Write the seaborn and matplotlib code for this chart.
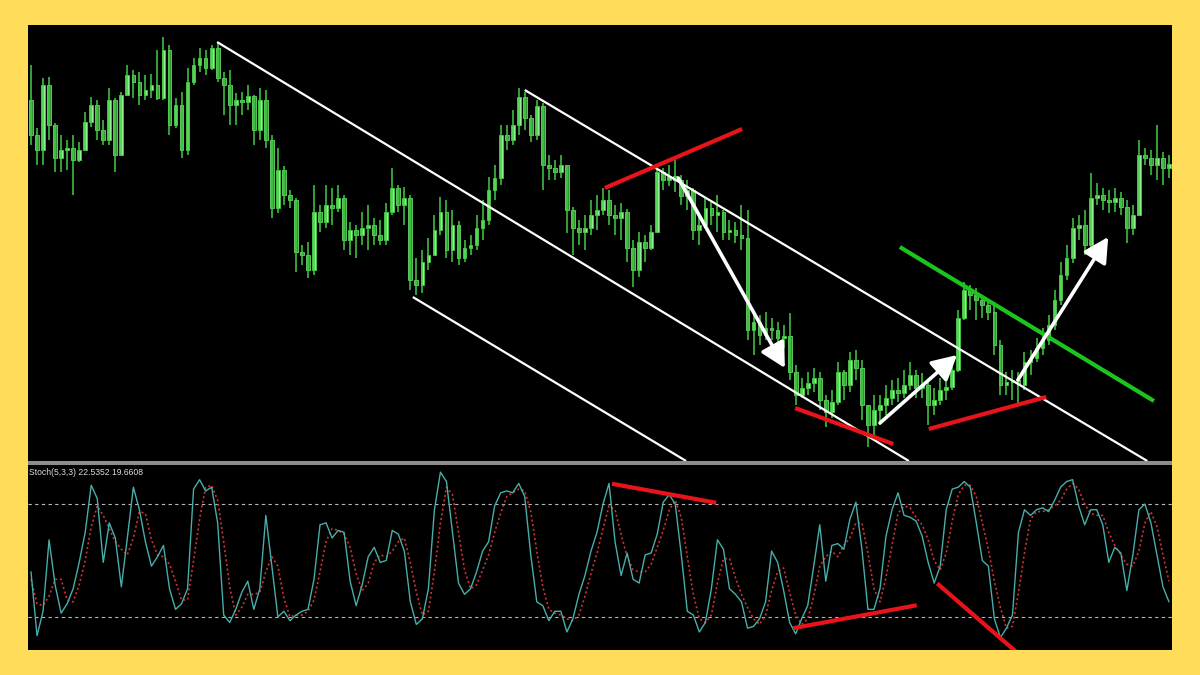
import numpy as np
import matplotlib
matplotlib.use("Agg")
import matplotlib.pyplot as plt
from matplotlib.patches import Rectangle
import seaborn as sns

sns.set_theme(style="dark")
plt.rcParams["font.family"] = ["Liberation Sans", "DejaVu Sans"]

# --- price bars (open of each bar = previous close) ---
first_open = 361
close = [326, 311, 376, 336, 303, 311, 313, 301, 311, 339,
         356, 331, 321, 361, 306, 366, 386, 379, 366, 371,
         376, 363, 411, 336, 356, 311, 379, 396, 403, 393,
         413, 383, 376, 356, 361, 359, 365, 331, 361, 321,
         253, 291, 266, 261, 209, 206, 191, 249, 239, 256,
         253, 263, 221, 231, 226, 233, 236, 226, 221, 249,
         273, 256, 263, 181, 176, 199, 206, 231, 249, 211,
         236, 203, 213, 216, 233, 241, 271, 283, 326, 321,
         336, 364, 343, 326, 355, 296, 293, 289, 296, 251,
         233, 229, 233, 246, 251, 261, 246, 243, 249, 213,
         191, 219, 213, 229, 289, 281, 285, 281, 265, 271,
         231, 236, 253, 246, 249, 229, 231, 226, 223, 131,
         139, 126, 133, 131, 123, 125, 89, 66, 73, 78,
         83, 61, 49, 59, 89, 76, 101, 93, 56, 36,
         51, 56, 63, 71, 68, 76, 86, 73, 76, 56,
         61, 71, 74, 91, 143, 171, 166, 161, 156, 149,
         116, 76, 79, 81, 76, 99, 103, 113, 121, 136,
         161, 186, 203, 233, 236, 216, 263, 266, 261, 259,
         263, 254, 233, 246, 306, 303, 296, 303, 293, 297]
high = [396, 333, 383, 384, 338, 326, 321, 326, 319, 349,
        364, 361, 341, 373, 363, 369, 396, 391, 389, 386,
        387, 411, 424, 416, 363, 369, 393, 403, 413, 411,
        416, 419, 389, 391, 368, 369, 376, 366, 373, 371,
        326, 313, 295, 271, 263, 216, 219, 276, 256, 276,
        273, 276, 266, 239, 236, 249, 256, 243, 241, 258,
        293, 276, 274, 266, 203, 211, 223, 246, 264, 261,
        251, 240, 221, 226, 246, 261, 284, 296, 336, 336,
        351, 373, 369, 346, 361, 358, 306, 301, 306, 296,
        254, 241, 246, 261, 266, 273, 271, 256, 258, 252,
        221, 229, 226, 236, 294, 293, 296, 303, 286, 281,
        273, 246, 263, 261, 266, 251, 241, 239, 256, 251,
        146, 146, 149, 143, 139, 136, 148, 96, 83, 89,
        93, 89, 66, 71, 99, 91, 109, 111, 101, 56,
        66, 66, 76, 81, 83, 91, 99, 91, 88, 81,
        73, 83, 86, 101, 151, 179, 176, 173, 166, 161,
        156, 121, 89, 91, 89, 109, 111, 123, 133, 146,
        171, 199, 216, 243, 246, 251, 288, 278, 273, 271,
        273, 269, 261, 256, 321, 313, 311, 336, 309, 306]
low = [316, 296, 296, 321, 289, 289, 291, 266, 299, 311,
       334, 321, 316, 316, 289, 306, 366, 363, 356, 361,
       363, 361, 361, 326, 333, 303, 306, 376, 389, 386,
       391, 379, 346, 336, 336, 346, 351, 316, 321, 313,
       243, 248, 256, 253, 189, 196, 183, 186, 229, 233,
       236, 249, 211, 206, 203, 216, 211, 216, 216, 216,
       246, 249, 236, 171, 166, 168, 191, 206, 226, 203,
       199, 196, 199, 206, 211, 221, 236, 261, 276, 311,
       316, 326, 331, 319, 321, 271, 281, 281, 283, 228,
       206, 216, 211, 226, 231, 246, 236, 226, 221, 199,
       174, 184, 199, 211, 229, 271, 275, 269, 256, 251,
       221, 216, 233, 236, 229, 221, 221, 218, 211, 121,
       106, 116, 121, 121, 116, 113, 81, 56, 63, 66,
       69, 51, 34, 43, 56, 61, 69, 81, 41, 14,
       26, 36, 46, 56, 59, 63, 71, 63, 63, 36,
       46, 56, 61, 71, 89, 141, 151, 141, 143, 141,
       106, 66, 66, 61, 58, 71, 86, 99, 106, 116,
       131, 156, 181, 198, 221, 206, 211, 256, 251, 248,
       249, 246, 218, 226, 246, 296, 286, 281, 276, 283]

# --- stochastic oscillator (%K main, %D signal) ---
stoch_k = [44, 10, 23, 61, 37, 22, 27, 35, 49, 65,
           90, 83, 49, 70, 62, 36, 62, 89, 77, 60,
           47, 52, 58, 35, 24, 27, 35, 88, 93, 87,
           89, 70, 21, 17, 24, 33, 39, 24, 35, 74,
           47, 20, 23, 18, 21, 23, 24, 40, 69, 70,
           62, 66, 65, 39, 26, 37, 52, 57, 49, 50,
           66, 64, 55, 28, 16, 19, 35, 77, 97, 92,
           65, 38, 32, 35, 44, 55, 60, 79, 86, 87,
           86, 91, 84, 53, 28, 26, 18, 23, 23, 12,
           19, 32, 42, 55, 65, 80, 91, 60, 42, 54,
           40, 38, 53, 54, 64, 81, 85, 80, 53, 23,
           21, 12, 17, 35, 61, 56, 35, 32, 28, 14,
           15, 19, 28, 55, 49, 34, 17, 11, 19, 26,
           47, 69, 39, 58, 59, 56, 72, 81, 56, 24,
           24, 35, 63, 77, 86, 74, 73, 71, 63, 49,
           38, 47, 77, 88, 89, 92, 89, 70, 50, 47,
           19, 9, 14, 21, 65, 77, 74, 77, 78, 76,
           82, 89, 92, 93, 79, 69, 77, 77, 69, 49,
           57, 54, 34, 53, 77, 80, 70, 53, 36, 28]
stoch_d = [40, 27, 26, 31, 40, 40, 29, 28, 37, 50,
           68, 79, 74, 67, 60, 56, 53, 62, 76, 75,
           61, 53, 52, 48, 39, 29, 29, 50, 72, 89,
           90, 82, 60, 36, 21, 25, 32, 32, 33, 44,
           52, 47, 30, 20, 21, 21, 23, 29, 44, 60,
           67, 66, 64, 57, 43, 34, 38, 49, 53, 52,
           55, 60, 62, 49, 33, 21, 23, 44, 70, 89,
           85, 65, 45, 35, 37, 45, 53, 65, 75, 84,
           86, 88, 87, 76, 55, 36, 24, 22, 21, 19,
           18, 21, 31, 43, 54, 67, 79, 77, 64, 52,
           45, 44, 44, 48, 57, 66, 77, 82, 73, 52,
           32, 19, 17, 21, 38, 51, 51, 41, 32, 25,
           19, 16, 21, 34, 44, 46, 33, 21, 16, 19,
           31, 47, 52, 55, 52, 58, 62, 70, 70, 54,
           35, 28, 41, 58, 75, 79, 78, 73, 69, 61,
           50, 45, 54, 71, 85, 90, 90, 84, 70, 56,
           39, 25, 14, 15, 33, 54, 72, 76, 76, 77,
           79, 82, 88, 91, 88, 80, 75, 74, 74, 65,
           58, 53, 48, 47, 55, 70, 76, 68, 53, 39]
stoch_label = "Stoch(5,3,3) 22.5352 19.6608"
stoch_levels = [20, 80]

# --- drawn trend lines / arrows (bar index, price) ---
channel_lines = [((30.9, 419), (145.8, 0)),
                 ((63.4, 164), (108.8, 0)),
                 ((82.0, 371), (185.4, 0))]
red_lines = [((95.3, 273), (118.1, 332)),
             ((126.9, 53), (143.2, 17)),
             ((149.1, 32), (168.6, 64))]
green_line = ((144.3, 214), (186.5, 60))
arrows = [((107.5, 283), (125.2, 93)),
          ((141.0, 38), (153.8, 106)),
          ((163.9, 81), (178.9, 224))]
osc_red_lines = [((96.5, 90.8), (113.8, 80.7)),
                 ((126.6, 14.0), (147.1, 26.2)),
                 ((150.5, 37.8), (164.5, -1.0))]

BG = "#FFDC5A"
W, H = 1200, 675
fig = plt.figure(figsize=(12, 6.75), dpi=100, facecolor=BG)
ax = fig.add_axes([28 / W, (H - 461) / H, 1144 / W, 436 / H])
ax2 = fig.add_axes([28 / W, (H - 650) / H, 1144 / W, 185 / H])
fig.add_artist(Rectangle((28 / W, (H - 465) / H), 1144 / W, 4 / H,
                         transform=fig.transFigure, color="#8c8c8c", lw=0))

for a in (ax, ax2):
    a.set_facecolor("black")
    a.grid(False)
    a.set_xticks([])
    a.set_yticks([])
    for s in a.spines.values():
        s.set_visible(False)

# candles
n = len(close)
idx = np.arange(n)
c = np.array(close, dtype=float)
o = np.concatenate([[first_open], c[:-1]])
h = np.array(high, dtype=float)
l = np.array(low, dtype=float)
up = c >= o
bottom = np.minimum(o, c)
height = np.maximum(np.abs(c - o), 1.0)

ax.vlines(idx, l, h, color="#44cc44", lw=1.1)
ax.bar(idx[up], height[up], bottom=bottom[up], width=0.62,
       color="#8ff08f", edgecolor="#44cc44", lw=0.6)
ax.bar(idx[~up], height[~up], bottom=bottom[~up], width=0.62,
       color="#2f982f", edgecolor="#6ad86a", lw=0.6)

for (x0, y0), (x1, y1) in channel_lines:
    ax.plot([x0, x1], [y0, y1], color="white", lw=1.6, solid_capstyle="butt")
for (x0, y0), (x1, y1) in red_lines:
    ax.plot([x0, x1], [y0, y1], color="#e8141a", lw=3, solid_capstyle="butt")
(gx0, gy0), (gx1, gy1) = green_line
ax.plot([gx0, gx1], [gy0, gy1], color="#1ec41e", lw=3, solid_capstyle="butt")
for start, tip in arrows:
    ax.annotate("", xy=tip, xytext=start,
                arrowprops=dict(arrowstyle="-|>,head_length=0.75,head_width=0.4",
                                color="white", lw=2.6, shrinkA=0, shrinkB=0,
                                mutation_scale=20))

ax.set_xlim(-0.5, n - 0.5)
ax.set_ylim(0, 436)

# oscillator
for lv in stoch_levels:
    ax2.axhline(lv, color="#b8b8b8", lw=0.8, ls=(0, (3, 3)))
sns.lineplot(x=idx, y=stoch_d, ax=ax2, color="#d03434", lw=1.2, ls=(0, (1.2, 1.6)))
sns.lineplot(x=idx, y=stoch_k, ax=ax2, color="#48aeaa", lw=1)
for (x0, y0), (x1, y1) in osc_red_lines:
    ax2.plot([x0, x1], [y0, y1], color="#e8141a", lw=3, solid_capstyle="butt")
ax2.text(0.001, 0.985, stoch_label, transform=ax2.transAxes, ha="left", va="top",
         fontsize=6.2, color="#dcdcdc")
ax2.set(xlabel="", ylabel="")
ax2.set_xlim(-0.5, n - 0.5)
ax2.set_ylim(2.4, 100.8)

fig.savefig("out.png", dpi=100, facecolor=BG)
